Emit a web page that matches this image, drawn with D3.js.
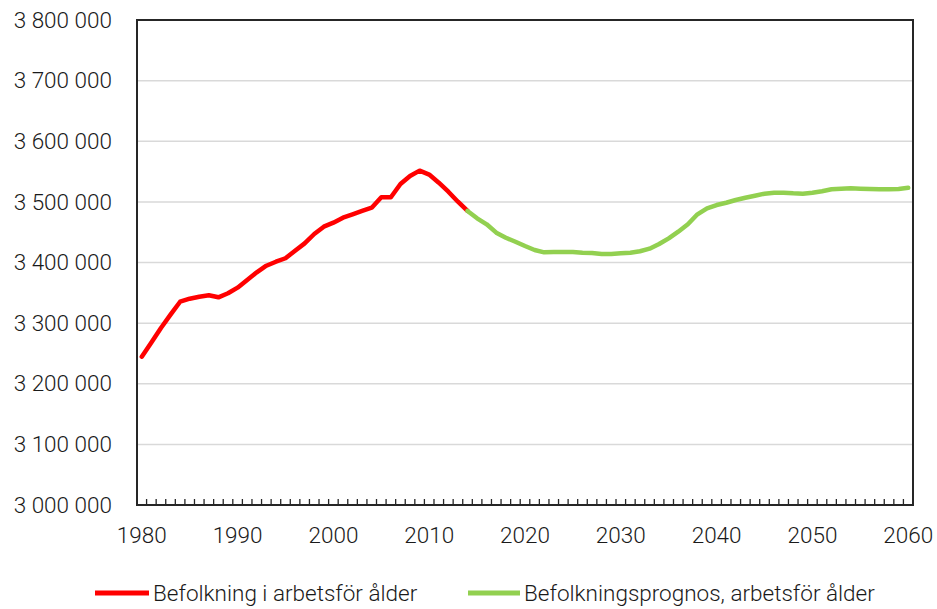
<!DOCTYPE html>
<html>
<head>
<meta charset="utf-8">
<script src="https://cdn.jsdelivr.net/npm/d3@7"></script>
<style>
  body { margin: 0; background: #fff; }
  svg { display: block; font-family: Roboto, "Open Sans", sans-serif; font-weight: 300; }
</style>
</head>
<body>
<svg id="chart" width="937" height="609"></svg>
<script>
// years on the category axis
var years = d3.range(1980, 2061);
var yTicks = [3000000, 3100000, 3200000, 3300000, 3400000, 3500000, 3600000, 3700000, 3800000];
var xLabels = [1980, 1990, 2000, 2010, 2020, 2030, 2040, 2050, 2060];

// Befolkning i arbetsför ålder, 1980-2014
var utfallAr = d3.range(1980, 2015);
var utfall = [3244600, 3268000, 3292000, 3314000, 3335300, 3340300, 3343600, 3345900, 3342600, 3349200,
              3358500, 3371100, 3383800, 3394700, 3401300, 3407000, 3419500, 3431600, 3447000, 3459100,
              3465700, 3474000, 3479500, 3485000, 3490400, 3507600, 3507600, 3529500, 3542700, 3551500,
              3545000, 3531700, 3516800, 3500300, 3485000];

// Befolkningsprognos, 2014-2060
var prognosAr = d3.range(2014, 2061);
var prognos = [3485000, 3472900, 3463000, 3449200, 3440900, 3434300, 3427200, 3420600, 3416800, 3417300,
               3417300, 3417300, 3416200, 3415700, 3414000, 3414000, 3415200, 3416200, 3418500, 3422800,
               3430500, 3439900, 3450800, 3463000, 3479500, 3489400, 3494800, 3498600, 3503100, 3506900,
               3510200, 3513500, 3515100, 3515100, 3514100, 3513500, 3515100, 3517400, 3520700, 3521700,
               3522400, 3521700, 3521200, 3520700, 3520700, 3521200, 3523400];

var serier = [
  {namn: "Befolkning i arbetsför ålder", farg: "#ff0000", ar: utfallAr, varden: utfall},
  {namn: "Befolkningsprognos, arbetsför ålder", farg: "#92d050", ar: prognosAr, varden: prognos}
];

var svg = d3.select("#chart");
var margin = {top: 20, right: 24, bottom: 104, left: 137};
var width = 937 - margin.left - margin.right;
var height = 609 - margin.top - margin.bottom;

var locale = d3.formatLocale({decimal: ",", thousands: " ", grouping: [3], currency: ["", ""]});
var fmt = locale.format(",d");

var x = d3.scaleBand().domain(years).range([0, width]).padding(0);
var y = d3.scaleLinear().domain([3000000, 3800000]).range([height, 0]);

var g = svg.append("g").attr("transform", "translate(" + margin.left + "," + margin.top + ")");

// gridlines
g.append("g")
  .selectAll("line")
  .data(yTicks.slice(1, -1))
  .enter().append("line")
  .attr("x1", 0).attr("x2", width)
  .attr("y1", function(d) { return y(d); })
  .attr("y2", function(d) { return y(d); })
  .attr("stroke", "#d9d9d9")
  .attr("stroke-width", 1.5);

// y axis labels
var yAxis = g.append("g")
  .call(d3.axisLeft(y).tickValues(yTicks).tickSize(0).tickPadding(25).tickFormat(fmt));
yAxis.select(".domain").remove();
yAxis.selectAll("text").attr("font-size", "22.5px").attr("fill", "#1a1a1a")
  .attr("font-family", "Roboto, sans-serif").attr("font-weight", 300);

// x axis: minor ticks between categories
var tickPos = d3.range(1, years.length).map(function(i) { return i * x.step(); });
g.append("g")
  .selectAll("line")
  .data(tickPos)
  .enter().append("line")
  .attr("x1", function(d) { return d; }).attr("x2", function(d) { return d; })
  .attr("y1", height).attr("y2", height - 6)
  .attr("stroke", "#262626")
  .attr("stroke-width", 1.3);

var xAxis = g.append("g")
  .attr("transform", "translate(0," + height + ")")
  .call(d3.axisBottom(x).tickValues(xLabels).tickSize(0).tickPadding(22));
xAxis.select(".domain").remove();
xAxis.selectAll("text").attr("font-size", "22.5px").attr("fill", "#1a1a1a")
  .attr("font-family", "Roboto, sans-serif").attr("font-weight", 300);

// plot border
g.append("rect")
  .attr("x", 0).attr("y", 0)
  .attr("width", width).attr("height", height)
  .attr("fill", "none")
  .attr("stroke", "#262626")
  .attr("stroke-width", 2);

// lines
var linje = d3.line()
  .x(function(d) { return x(d[0]) + x.bandwidth() / 2; })
  .y(function(d) { return y(d[1]); });

serier.forEach(function(s) {
  var pts = s.ar.map(function(a, i) { return [a, s.varden[i]]; });
  g.append("path")
    .datum(pts)
    .attr("fill", "none")
    .attr("stroke", s.farg)
    .attr("stroke-width", 4.5)
    .attr("stroke-linejoin", "round")
    .attr("stroke-linecap", "round")
    .attr("d", linje);
});

// legend
var legPos = [{x: 95, tx: 153}, {x: 468, tx: 524}];
var leg = svg.append("g");
serier.forEach(function(s, i) {
  leg.append("line")
    .attr("x1", legPos[i].x).attr("x2", legPos[i].tx - 4)
    .attr("y1", 593).attr("y2", 593)
    .attr("stroke", s.farg)
    .attr("stroke-width", 5);
  leg.append("text")
    .attr("x", legPos[i].tx)
    .attr("y", 593)
    .attr("dy", "0.35em")
    .attr("font-size", "22.5px")
    .attr("fill", "#1a1a1a")
    .text(s.namn);
});
</script>
</body>
</html>
